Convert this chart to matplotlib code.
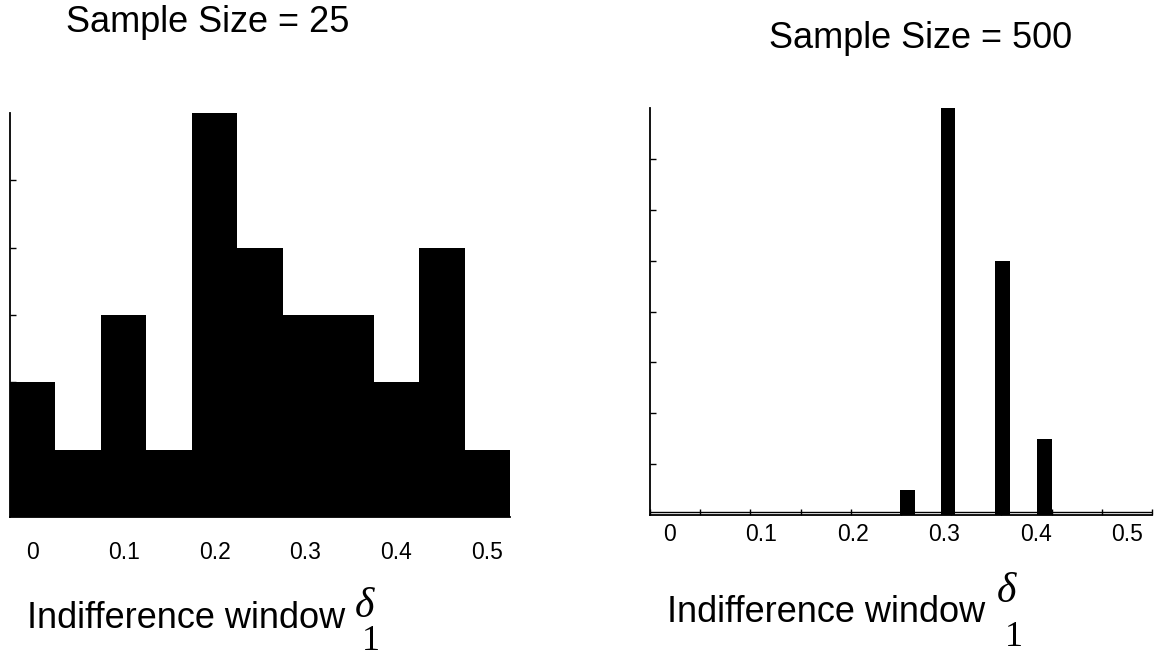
import matplotlib.pyplot as plt
import numpy as np

# histogram values
small_centers = [0.0, 0.05, 0.1, 0.15, 0.2, 0.25, 0.3, 0.35, 0.4, 0.45, 0.5]
small_counts = [2, 1, 3, 1, 6, 4, 3, 3, 2, 4, 1]
big_centers = [0.26, 0.304, 0.364, 0.41]
big_counts = [0.5, 8, 5, 1.5]
tick_vals = [0, 0.1, 0.2, 0.3, 0.4, 0.5]
tick_labels = ['0', '0.1', '0.2', '0.3', '0.4', '0.5']

W, H = 1156, 657
fig = plt.figure(figsize=(W / 100, H / 100), dpi=100)
sans = 'Liberation Sans'
serif = 'Liberation Serif'


def box(x0, x1, ytop, ybot):
    return [x0 / W, 1 - ybot / H, (x1 - x0) / W, (ybot - ytop) / H]


def style(ax):
    for s in ['top', 'right']:
        ax.spines[s].set_visible(False)
    for s in ['left', 'bottom']:
        ax.spines[s].set_linewidth(1.3)
    ax.tick_params(axis='y', direction='in', length=4, width=1, labelleft=False)
    ax.set_xticks(tick_vals)
    ax.set_xticklabels(tick_labels, fontfamily=sans, fontsize=16.5)
    ax.tick_params(axis='x', length=0)


# left: sample size 25
ax1 = fig.add_axes(box(10, 510, 113, 517))
ax1.bar(small_centers, small_counts, width=0.05, color='black', linewidth=0)
ax1.set_xlim(-0.025, 0.525)
ax1.set_ylim(0, 6)
ax1.set_yticks([1, 2, 3, 4, 5])
style(ax1)
ax1.tick_params(axis='x', pad=17)

# right: sample size 500
ax2 = fig.add_axes(box(650, 1152, 108, 515))
ax2.bar(big_centers, big_counts, width=0.016, color='black', linewidth=0, zorder=3)
ax2.axhline(0.05, color='black', lw=1, zorder=2)
ax2.set_xlim(-0.0217, 0.524)
ax2.set_ylim(0, 8)
ax2.set_yticks([1, 2, 3, 4, 5, 6, 7])
style(ax2)
ax2.set_xticks(np.linspace(-0.0217, 0.5273, 11), minor=True)
ax2.tick_params(axis='x', which='minor', direction='in', length=4, width=1)
ax2.tick_params(axis='x', pad=6)

# titles
fig.text(208 / W, 1 - 23 / H, 'Sample Size = 25', fontfamily=sans, fontsize=26,
         ha='center', va='center')
fig.text(921 / W, 1 - 39 / H, 'Sample Size = 500', fontfamily=sans, fontsize=26,
         ha='center', va='center')

# axis labels with delta_1
fig.text(27 / W, 1 - 618 / H, 'Indifference window', fontfamily=sans, fontsize=26,
         ha='left', va='center')
fig.text(364 / W, 1 - 607 / H, 'δ', fontfamily=serif, style='italic', fontsize=30,
         ha='center', va='center')
fig.text(371 / W, 1 - 641 / H, '1', fontfamily=serif, fontsize=26,
         ha='center', va='center')

fig.text(667 / W, 1 - 613 / H, 'Indifference window', fontfamily=sans, fontsize=26,
         ha='left', va='center')
fig.text(1006 / W, 1 - 592 / H, 'δ', fontfamily=serif, style='italic', fontsize=30,
         ha='center', va='center')
fig.text(1014 / W, 1 - 638 / H, '1', fontfamily=serif, fontsize=26,
         ha='center', va='center')

fig.savefig('out.png', dpi=100)
